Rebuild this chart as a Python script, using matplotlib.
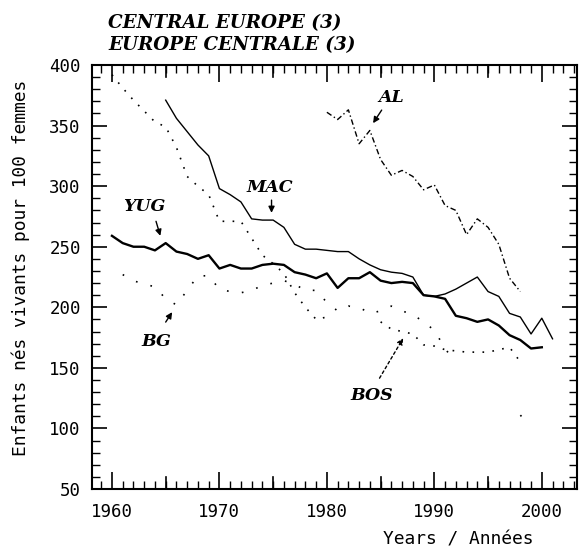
import numpy as np
import matplotlib.pyplot as plt
from matplotlib.ticker import MultipleLocator

# data (births per 100 women)
yug_years = list(range(1960, 2001))
yug_vals = [259, 253, 250, 250, 247, 253, 246, 244, 240, 243,
            232, 235, 232, 232, 235, 236, 235, 229, 227, 224,
            228, 216, 224, 224, 229, 222, 220, 221, 220, 210,
            209, 207, 193, 191, 188, 190, 185, 177, 173, 166,
            167]

mac_years = list(range(1965, 2002))
mac_vals = [371, 356, 345, 334, 325, 298, 293, 287, 273, 272,
            272, 266, 252, 248, 248, 247, 246, 246, 240, 235,
            231, 229, 228, 225, 210, 209, 211, 215, 220, 225,
            213, 209, 195, 192, 178, 191, 174]

al_years = list(range(1980, 1999))
al_vals = [361, 355, 363, 335, 346, 322, 309, 313, 308, 297,
           301, 284, 280, 260, 273, 266, 252, 224, 213]

bos_years = list(range(1960, 1999))
bos_vals = [392, 381, 371, 362, 353, 349, 332, 308, 300, 293,
            271, 271, 271, 257, 243, 236, 228, 212, 200, 190,
            192, np.nan, np.nan, np.nan, np.nan, 188, 182, 180, 178, 169,
            168, 165, 164, 163, 163, 163, 165, 167, 155]

bg_years = list(range(1961, 2000))
bg_vals = [227, 222, 219, 217, 207, 202, 214, 226, 226, 215,
           213, 212, 214, 218, 220, 222, 219, 214, 214, 204,
           197, 201, 200, 195, 197, 201, 197, 194, 188, 181,
           166, 154, np.nan, np.nan, np.nan, np.nan, np.nan, 110, 118]

fig = plt.figure(figsize=(5.81, 5.52), dpi=100)
ax = fig.add_axes([0.1583, 0.1141, 0.8347, 0.7681])

ax.plot(yug_years, yug_vals, color='black', lw=1.7)
ax.plot(mac_years, mac_vals, color='black', lw=1.0)
ax.plot(al_years, al_vals, color='black', lw=1.0, linestyle=(0, (4, 2, 1, 2)))
ax.plot(bos_years, bos_vals, color='black', lw=1.2, linestyle=(0, (1, 5)))
ax.plot(bg_years, bg_vals, color='black', lw=1.2, linestyle=(0, (1, 8)))

ax.set_xlim(1958.14, 2003.27)
ax.set_ylim(50, 400)

ax.set_xticks([1960, 1970, 1980, 1990, 2000])
ax.xaxis.set_minor_locator(MultipleLocator(1))
ax.set_yticks(range(50, 401, 50))
ax.yaxis.set_minor_locator(MultipleLocator(10))

mono = 'DejaVu Sans Mono'
ax.tick_params(axis='both', which='both', direction='in', top=True, right=True, color='black')
ax.tick_params(axis='x', which='major', length=12, width=1.2, pad=10)
ax.tick_params(axis='x', which='minor', length=6, width=1.0)
ax.tick_params(axis='y', which='major', length=11, width=1.2, pad=8)
ax.tick_params(axis='y', which='minor', length=6, width=1.0)
for lab in ax.get_xticklabels() + ax.get_yticklabels():
    lab.set_family(mono)
    lab.set_fontsize(12.5)

# extra long ticks at half decades
for yr in [1965, 1975, 1985, 1995]:
    ax.plot([yr, yr], [50, 50 + 12 / 1.211], color='black', lw=1.2, clip_on=False)
    ax.plot([yr, yr], [400, 400 - 12 / 1.211], color='black', lw=1.2, clip_on=False)

for sp in ax.spines.values():
    sp.set_linewidth(1.5)

fig.text(0.036, 0.515, 'Enfants nés vivants pour 100 femmes', rotation=90,
         ha='center', va='center', family=mono, fontsize=12.9)
fig.text(0.788, 0.022, 'Years / Années', ha='center', va='center',
         family=mono, fontsize=12.9)

serif = 'DejaVu Serif'
fig.text(0.186, 0.959, 'CENTRAL EUROPE (3)', family=serif, style='italic',
         weight='bold', fontsize=13.2, ha='left', va='center')
fig.text(0.186, 0.918, 'EUROPE CENTRALE (3)', family=serif, style='italic',
         weight='bold', fontsize=13.2, ha='left', va='center')

lbl = dict(family=serif, style='italic', weight='bold', fontsize=12.5, ha='center', va='center')
arrow = dict(arrowstyle='-|>', color='black', lw=1.0, mutation_scale=9, shrinkA=0, shrinkB=0)

ax.text(1963.0, 283.6, 'YUG', **lbl)
ax.annotate('', xy=(1964.5, 259), xytext=(1964.1, 271), arrowprops=arrow)
ax.text(1974.7, 299, 'MAC', **lbl)
ax.annotate('', xy=(1974.85, 278), xytext=(1974.85, 288.5), arrowprops=arrow)
ax.text(1986.0, 373.6, 'AL', **lbl)
ax.annotate('', xy=(1984.3, 352), xytext=(1985.1, 362.8), arrowprops=arrow)
ax.text(1964.1, 172, 'BG', **lbl)
ax.annotate('', xy=(1965.6, 196), xytext=(1965.0, 187.8), arrowprops=arrow)
ax.text(1984.2, 127.5, 'BOS', **lbl)
ax.annotate('', xy=(1987.1, 174.5), xytext=(1984.9, 141.5),
            arrowprops=dict(arrow, linestyle=(0, (2, 2))))

fig.savefig('out.png', dpi=100)
